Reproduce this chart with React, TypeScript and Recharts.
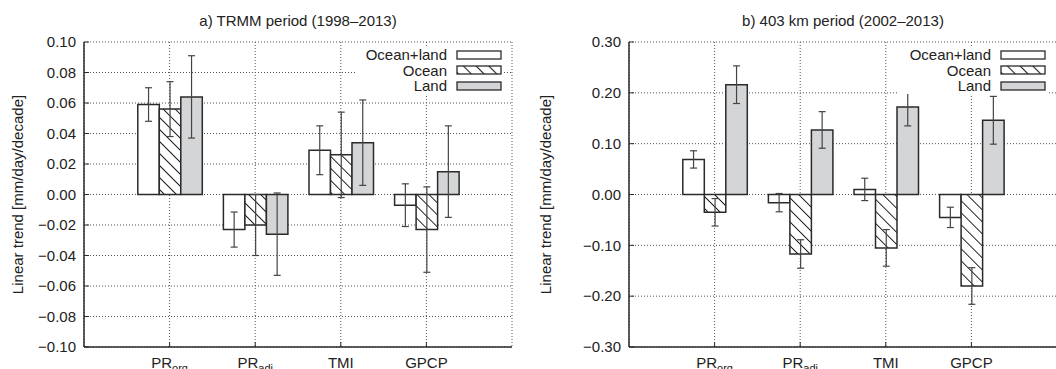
import React from "react";
import { BarChart, Bar, XAxis, YAxis, CartesianGrid, ErrorBar, Legend } from "recharts";

const categories = ["PR_org", "PR_adj", "TMI", "GPCP"];
const tickMain = ["PR", "PR", "TMI", "GPCP"];
const tickSub = ["org", "adj", "", ""];
const seriesNames = ["Ocean+land", "Ocean", "Land"];

// a) TRMM period (1998–2013)
const oceanLandA = [0.059, -0.023, 0.029, -0.007];
const oceanLandErrA = [0.011, 0.0115, 0.016, 0.014];
const oceanA = [0.056, -0.020, 0.026, -0.023];
const oceanErrA = [0.018, 0.020, 0.028, 0.028];
const landA = [0.064, -0.026, 0.034, 0.015];
const landErrA = [0.027, 0.027, 0.028, 0.030];
const ticksA = [-0.1, -0.08, -0.06, -0.04, -0.02, 0, 0.02, 0.04, 0.06, 0.08, 0.1];

// b) 403 km period (2002–2013)
const oceanLandB = [0.069, -0.016, 0.010, -0.045];
const oceanLandErrB = [0.017, 0.018, 0.022, 0.020];
const oceanB = [-0.035, -0.117, -0.105, -0.180];
const oceanErrB = [0.027, 0.028, 0.036, 0.036];
const landB = [0.216, 0.127, 0.172, 0.146];
const landErrB = [0.037, 0.036, 0.037, 0.047];
const ticksB = [-0.3, -0.2, -0.1, 0, 0.1, 0.2, 0.3];

const titleA = "a) TRMM period (1998\u20132013)";
const titleB = "b) 403 km period (2002\u20132013)";
const yLabel = "Linear trend [mm/day/decade]";

const FONT = '"Liberation Sans", Arial, Helvetica, sans-serif';
const TEXT = "#222";
const EDGE = "#2a2a2a";
const LAND_FILL = "#d4d5d7";

const build = (ol: number[], olE: number[], oc: number[], ocE: number[], la: number[], laE: number[]) =>
  categories.map((c, i) => ({ cat: c, ol: ol[i], olErr: olE[i], oc: oc[i], ocErr: ocE[i], la: la[i], laErr: laE[i] }));

const dataA = build(oceanLandA, oceanLandErrA, oceanA, oceanErrA, landA, landErrA);
const dataB = build(oceanLandB, oceanLandErrB, oceanB, oceanErrB, landB, landErrB);

const fmt = (v: number) => (v < -1e-9 ? "\u2212" : "") + Math.abs(v).toFixed(2);

const CatTick = (props: any) => {
  const { x, y, payload } = props;
  const i = categories.indexOf(payload.value);
  return (
    <text x={x} y={y} textAnchor="middle" fill={TEXT} fontSize={15} fontFamily={FONT}>
      <tspan dy="0.71em">{tickMain[i]}</tspan>
      {tickSub[i] ? (
        <tspan dy={4} fontSize={11}>
          {tickSub[i]}
        </tspan>
      ) : null}
    </text>
  );
};

const Swatch = ({ kind, id }: { kind: number; id: string }) => (
  <svg width={46} height={10} style={{ display: "block", marginLeft: 9 }}>
    <defs>
      <pattern id={id} patternUnits="userSpaceOnUse" width={9} height={9} patternTransform="rotate(-45)">
        <rect width={9} height={9} fill="#fff" />
        <line x1={4.5} y1={0} x2={4.5} y2={9} stroke="#222" strokeWidth={1.1} />
      </pattern>
    </defs>
    <rect
      x={1}
      y={1}
      width={44}
      height={8}
      fill={kind === 0 ? "#fff" : kind === 1 ? `url(#${id})` : LAND_FILL}
      stroke={EDGE}
      strokeWidth={1.3}
    />
  </svg>
);

type PanelProps = {
  left: number;
  width: number;
  yAxisWidth: number;
  data: any[];
  domain: [number, number];
  ticks: number[];
  title: string;
  hatchId: string;
  legendLeft: number;
  yLabelX: number;
};

const PLOT_W = 428;
const PLOT_TOP = 42;
const PLOT_BOTTOM = 347;
const PAD = 42.8;

function Panel({ left, width, yAxisWidth, data, domain, ticks, title, hatchId, legendLeft, yLabelX }: PanelProps) {
  const marginRight = width - yAxisWidth - PLOT_W;
  const cy = (PLOT_TOP + PLOT_BOTTOM) / 2;
  const legendContent = () => (
    <div style={{ background: "#fff", padding: "0 1px 0 0" }}>
      {seriesNames.map((n, k) => (
        <div
          key={n}
          style={{
            display: "flex",
            justifyContent: "flex-end",
            alignItems: "center",
            height: 15.5,
            fontFamily: FONT,
            fontSize: 15,
            color: TEXT,
            lineHeight: "15.5px",
          }}
        >
          <span>{n}</span>
          <Swatch kind={k} id={`${hatchId}-lg-${k}`} />
        </div>
      ))}
    </div>
  );
  return (
    <div style={{ position: "absolute", left, top: 0, width, height: 369 }}>
      <div
        style={{
          position: "absolute",
          left: yAxisWidth,
          top: 12,
          width: PLOT_W,
          height: 17,
          lineHeight: "17px",
          textAlign: "center",
          fontFamily: FONT,
          fontSize: 15,
          color: TEXT,
          whiteSpace: "nowrap",
        }}
      >
        {title}
      </div>
      <BarChart
        width={width}
        height={369}
        data={data}
        margin={{ top: PLOT_TOP, right: marginRight, bottom: 0, left: 0 }}
        barGap={0}
        barSize={21.5}
      >
        <defs>
          <pattern id={hatchId} patternUnits="userSpaceOnUse" width={8.5} height={8.5} patternTransform="rotate(-45)">
            <rect width={8.5} height={8.5} fill="#fff" />
            <line x1={4.25} y1={0} x2={4.25} y2={8.5} stroke="#1a1a1a" strokeWidth={1} />
          </pattern>
        </defs>
        <CartesianGrid stroke="#555" strokeDasharray="1 2" strokeWidth={1} />
        <XAxis
          dataKey="cat"
          padding={{ left: PAD, right: PAD }}
          height={22}
          tickSize={-5}
          tickMargin={15}
          tick={<CatTick />}
          interval={0}
          axisLine={{ stroke: EDGE, strokeWidth: 1.5 }}
          tickLine={{ stroke: EDGE, strokeWidth: 1 }}
        />
        <XAxis
          xAxisId="top"
          orientation="top"
          dataKey="cat"
          padding={{ left: PAD, right: PAD }}
          height={0}
          tickSize={-5}
          tick={false}
          interval={0}
          axisLine={{ stroke: EDGE, strokeWidth: 1.5 }}
          tickLine={{ stroke: EDGE, strokeWidth: 1 }}
        />
        <YAxis
          type="number"
          domain={domain}
          ticks={ticks}
          interval={0}
          width={yAxisWidth}
          tickSize={-5}
          tickMargin={13}
          tickFormatter={fmt}
          tick={{ fill: TEXT, fontSize: 15, fontFamily: FONT }}
          axisLine={{ stroke: EDGE, strokeWidth: 1.5 }}
          tickLine={{ stroke: EDGE, strokeWidth: 1 }}
          label={{
            content: () => (
              <text
                x={yLabelX}
                y={cy}
                transform={`rotate(-90, ${yLabelX}, ${cy})`}
                textAnchor="middle"
                dominantBaseline="central"
                fill={TEXT}
                fontSize={15}
                fontFamily={FONT}
              >
                {yLabel}
              </text>
            ),
          }}
        />
        <YAxis
          yAxisId="r"
          orientation="right"
          type="number"
          domain={domain}
          ticks={ticks}
          interval={0}
          width={0}
          tickSize={-5}
          tick={false}
          axisLine={{ stroke: EDGE, strokeWidth: 1.5 }}
          tickLine={{ stroke: EDGE, strokeWidth: 1 }}
        />
        <Bar dataKey="ol" name={seriesNames[0]} fill="#fff" stroke={EDGE} strokeWidth={1.5} isAnimationActive={false}>
          <ErrorBar dataKey="olErr" width={3.5} stroke="#444" strokeWidth={1.2} />
        </Bar>
        <Bar dataKey="oc" name={seriesNames[1]} fill={`url(#${hatchId})`} stroke={EDGE} strokeWidth={1.5} isAnimationActive={false}>
          <ErrorBar dataKey="ocErr" width={3.5} stroke="#444" strokeWidth={1.2} />
        </Bar>
        <Bar dataKey="la" name={seriesNames[2]} fill={LAND_FILL} stroke={EDGE} strokeWidth={1.5} isAnimationActive={false}>
          <ErrorBar dataKey="laErr" width={3.5} stroke="#444" strokeWidth={1.2} />
        </Bar>
        <Legend
          layout="vertical"
          align="center"
          verticalAlign="middle"
          content={legendContent}
          wrapperStyle={{ left: legendLeft, top: 47, width: 148, right: "auto", bottom: "auto" }}
        />
      </BarChart>
    </div>
  );
}

export default function App() {
  return (
    <div
      style={{
        position: "absolute",
        left: 0,
        top: 0,
        width: 1056,
        height: 369,
        overflow: "hidden",
        background: "#fff",
      }}
    >
      <Panel
        left={0}
        width={530}
        yAxisWidth={84}
        data={dataA}
        domain={[-0.1, 0.1]}
        ticks={ticksA}
        title={titleA}
        hatchId="hatchA"
        legendLeft={355}
        yLabelX={17}
      />
      <Panel
        left={526}
        width={540}
        yAxisWidth={103}
        data={dataB}
        domain={[-0.3, 0.3]}
        ticks={ticksB}
        title={titleB}
        hatchId="hatchB"
        legendLeft={373}
        yLabelX={19}
      />
    </div>
  );
}
